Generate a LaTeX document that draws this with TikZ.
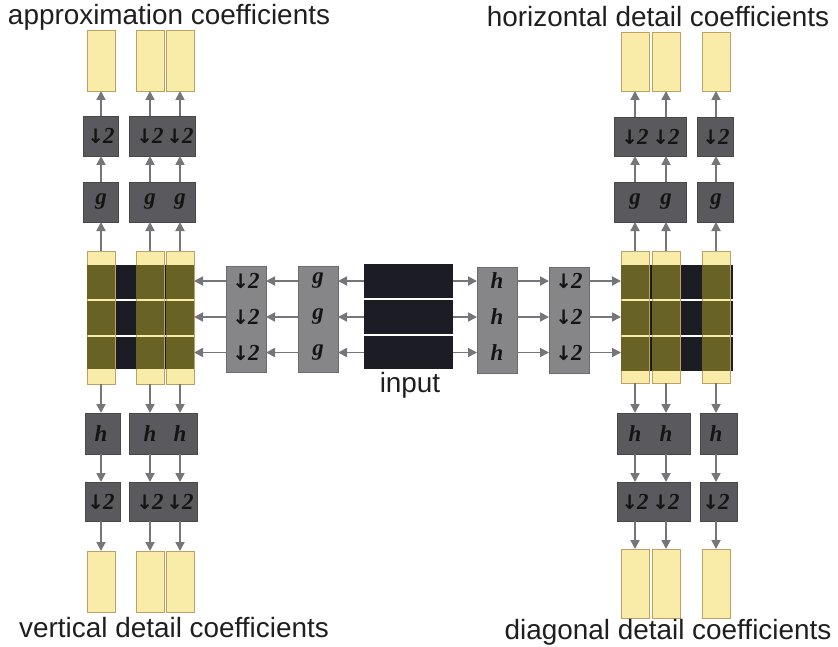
\documentclass[tikz,border=0pt]{standalone}
\usepackage{fontspec}
\setmainfont{Liberation Sans}
\newfontfamily\serifb{Liberation Serif}
\newfontfamily\arrf{DejaVu Sans}
\usetikzlibrary{arrows.meta}
\definecolor{lyel}{RGB}{248,236,168}
\definecolor{ybord}{RGB}{190,160,100}
\definecolor{olivec}{RGB}{104,99,36}
\definecolor{dbox}{RGB}{90,90,94}
\definecolor{mbox}{RGB}{134,134,136}
\definecolor{inpc}{RGB}{28,28,36}
\definecolor{arrc}{RGB}{118,118,122}
\newcommand\rbox[6]{\node[#1, minimum width={(#4-#2)*1bp}, minimum height={(#5-#3)*1bp}] (#6) at ({(#2+#4)/2},{(#3+#5)/2}) {};}
\newcommand\dsm{{\arrf\bfseries\fontsize{20}{20}\selectfont ↓}\kern-1pt 2}
\tikzset{
  base/.style={rectangle, inner sep=0pt, outer sep=0pt},
  yel/.style={base, fill=lyel, draw=ybord, line width=0.8bp},
  dk/.style={base, fill=dbox, draw=dbox!80!black, line width=0.6bp},
  md/.style={base, fill=mbox, draw=mbox!80!black, line width=0.6bp},
  blk/.style={base, fill=inpc},
  arr/.style={draw=arrc, line width=1.8bp, -{Triangle[length=9bp,width=9bp]}},
  lbl/.style={inner sep=0pt, font=\serifb\bfseries\itshape\fontsize{23}{23}\selectfont, text=black!92},
  captext/.style={inner sep=0pt, anchor=base, font=\fontsize{28}{28}\selectfont, text=black!88}
}
\begin{document}
\begin{tikzpicture}[x=1bp, y=-1bp]
\useasboundingbox (0,0) rectangle (838,647);
% ---------- left top
\rbox{yel}{87}{30}{115}{91}{yTL1}
\rbox{yel}{136}{30}{164}{91}{yTL2}
\rbox{yel}{166}{30}{194}{91}{yTL3}
\rbox{dk}{83}{116}{118}{156}{dTLa}
\rbox{dk}{129}{116}{195}{156}{dTLb}
\rbox{dk}{83}{182}{118}{222}{gTLa}
\rbox{dk}{129}{182}{195}{222}{gTLb}
% ---------- left middle block
\rbox{blk}{87}{265}{195}{299}{bL1}
\rbox{blk}{87}{301}{195}{335}{bL2}
\rbox{blk}{87}{337}{195}{369}{bL3}
\rbox{yel}{87}{251}{115}{384}{cL1}
\rbox{yel}{136}{251}{164}{384}{cL2}
\rbox{yel}{166}{251}{194}{384}{cL3}
\foreach \c in {cL1,cL2,cL3}{\foreach \r in {bL1,bL2,bL3}{
  \fill[olivec] (\c.west |- \r.north) rectangle (\c.east |- \r.south);}}
% ---------- left bottom
\rbox{dk}{85}{413}{120}{454}{hBLa}
\rbox{dk}{129}{413}{197}{454}{hBLb}
\rbox{dk}{85}{482}{120}{521}{dBLa}
\rbox{dk}{129}{482}{197}{521}{dBLb}
\rbox{yel}{87}{551}{115}{612}{yBL1}
\rbox{yel}{136}{551}{164}{612}{yBL2}
\rbox{yel}{166}{551}{194}{612}{yBL3}
% ---------- right top
\rbox{yel}{621}{32}{649}{91}{yTR1}
\rbox{yel}{652}{32}{680}{91}{yTR2}
\rbox{yel}{702}{32}{730}{91}{yTR3}
\rbox{dk}{614}{117}{686}{156}{dTRa}
\rbox{dk}{697}{117}{733}{156}{dTRb}
\rbox{dk}{614}{182}{686}{222}{gTRa}
\rbox{dk}{697}{182}{733}{222}{gTRb}
% ---------- right middle block
\rbox{blk}{621}{265}{733}{299}{bR1}
\rbox{blk}{621}{301}{733}{335}{bR2}
\rbox{blk}{621}{337}{733}{371}{bR3}
\rbox{yel}{621}{251}{649}{383}{cR1}
\rbox{yel}{652}{251}{680}{383}{cR2}
\rbox{yel}{702}{251}{730}{383}{cR3}
\foreach \c in {cR1,cR2,cR3}{\foreach \r in {bR1,bR2,bR3}{
  \fill[olivec] (\c.west |- \r.north) rectangle (\c.east |- \r.south);}}
% ---------- right bottom
\rbox{dk}{617}{413}{690}{454}{hBRa}
\rbox{dk}{700}{413}{737}{454}{hBRb}
\rbox{dk}{617}{482}{690}{521}{dBRa}
\rbox{dk}{700}{482}{737}{521}{dBRb}
\rbox{yel}{621}{549}{649}{618}{yBR1}
\rbox{yel}{652}{549}{680}{618}{yBR2}
\rbox{yel}{702}{549}{730}{618}{yBR3}
% ---------- centre
\rbox{md}{226}{266}{266}{372}{dML}
\rbox{md}{298}{266}{338}{372}{gM}
\rbox{blk}{364}{264}{453}{298}{inp1}
\rbox{blk}{364}{300}{453}{334}{inp2}
\rbox{blk}{364}{336}{453}{369}{inp3}
\rbox{md}{477}{267}{517}{373}{hM}
\rbox{md}{549}{267}{589}{373}{dMR}
% ---------- centre labels and arrows
\foreach \r in {inp1,inp2,inp3}{
  \node[lbl] at (\r -| dML) {\dsm};
  \node[lbl] at (\r -| gM) {g};
  \node[lbl] at (\r -| hM) {h};
  \node[lbl] at (\r -| dMR) {\dsm};
  \draw[arr] (\r.west) -- (\r -| gM.east);
  \draw[arr] (\r -| gM.west) -- (\r -| dML.east);
  \draw[arr] (\r -| dML.west) -- (\r -| cL3.east);
  \draw[arr] (\r.east) -- (\r -| hM.west);
  \draw[arr] (\r -| hM.east) -- (\r -| dMR.west);
  \draw[arr] (\r -| dMR.east) -- (\r -| cR1.west);
}
% ---------- column labels and vertical arrows
\foreach \c/\g/\d/\y/\h/\e/\z in {
  cL1/gTLa/dTLa/yTL1/hBLa/dBLa/yBL1, cL2/gTLb/dTLb/yTL2/hBLb/dBLb/yBL2, cL3/gTLb/dTLb/yTL3/hBLb/dBLb/yBL3,
  cR1/gTRa/dTRa/yTR1/hBRa/dBRa/yBR1, cR2/gTRa/dTRa/yTR2/hBRa/dBRa/yBR2, cR3/gTRb/dTRb/yTR3/hBRb/dBRb/yBR3}{
  \node[lbl] at (\c |- \g) {g};
  \node[lbl] at (\c |- \d) {\dsm};
  \node[lbl] at (\c |- \h) {h};
  \node[lbl] at (\c |- \e) {\dsm};
  \draw[arr] (\c.north) -- (\c.north |- \g.south);
  \draw[arr] (\c.north |- \g.north) -- (\c.north |- \d.south);
  \draw[arr] (\c.north |- \d.north) -- (\y.south);
  \draw[arr] (\c.south) -- (\c.south |- \h.north);
  \draw[arr] (\c.south |- \h.south) -- (\c.south |- \e.north);
  \draw[arr] (\c.south |- \e.south) -- (\z.north);
}
% ---------- captions
\node[captext] (tApp) at (169,25) {approximation coefficients};
\node[captext] (tHor) at (658,27) {horizontal detail coefficients};
\node[captext] (tVer) at (174,637) {vertical detail coefficients};
\node[captext] (tDia) at (668,639) {diagonal detail coefficients};
\node[captext] (tInp) at (410,392) {input};
\end{tikzpicture}
\end{document}
